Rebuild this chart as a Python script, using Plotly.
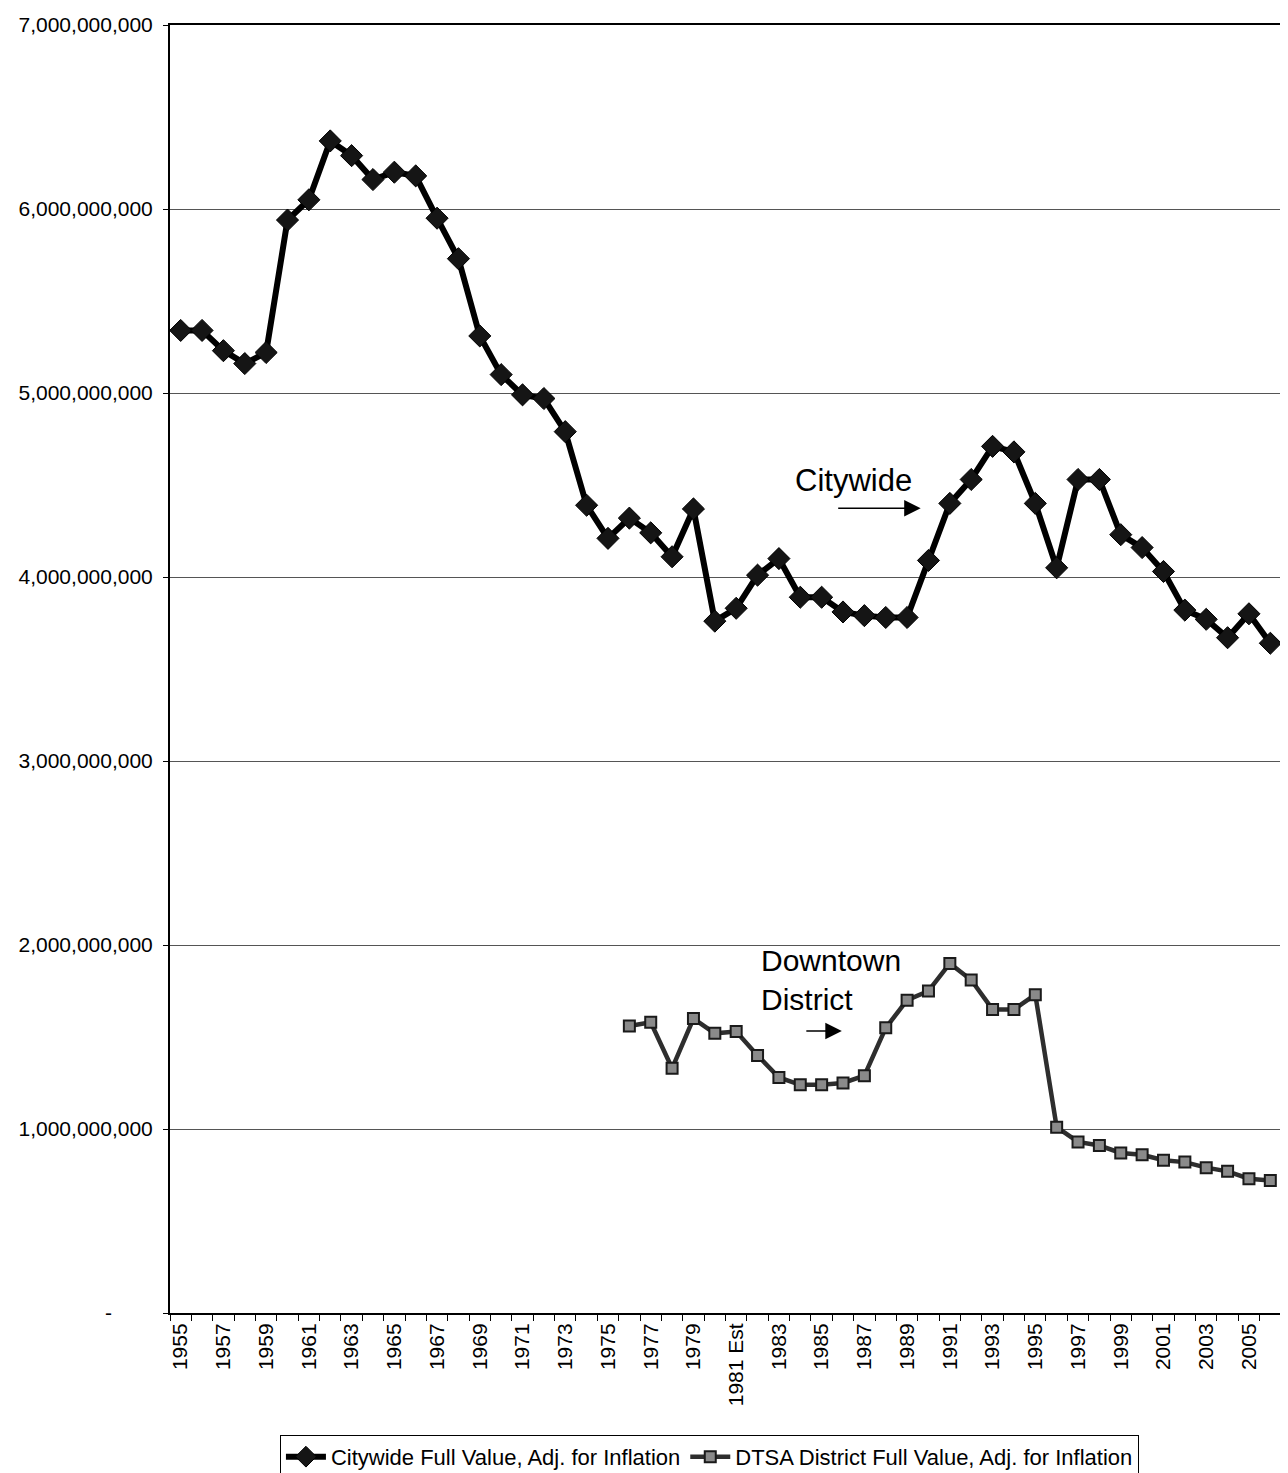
import plotly.graph_objects as go

# Category labels: 1955..2006, with the 1981 value flagged as an estimate
years = [str(y) if y != 1981 else "1981 Est" for y in range(1955, 2007)]

# Citywide full value, adjusted for inflation (dollars)
citywide = [
    5.34e9, 5.34e9, 5.23e9, 5.16e9, 5.22e9, 5.94e9, 6.05e9, 6.37e9, 6.29e9, 6.16e9,
    6.20e9, 6.18e9, 5.95e9, 5.73e9, 5.31e9, 5.10e9, 4.99e9, 4.97e9, 4.79e9, 4.39e9,
    4.21e9, 4.32e9, 4.24e9, 4.11e9, 4.37e9, 3.76e9, 3.83e9, 4.01e9, 4.10e9, 3.89e9,
    3.89e9, 3.81e9, 3.79e9, 3.78e9, 3.78e9, 4.09e9, 4.40e9, 4.53e9, 4.71e9, 4.68e9,
    4.40e9, 4.05e9, 4.53e9, 4.53e9, 4.23e9, 4.16e9, 4.03e9, 3.82e9, 3.77e9, 3.67e9,
    3.80e9, 3.64e9,
]

# DTSA district full value, adjusted for inflation (series starts in 1976)
dtsa = [None] * 21 + [
    1.56e9, 1.58e9, 1.33e9, 1.60e9, 1.52e9, 1.53e9, 1.40e9, 1.28e9, 1.24e9, 1.24e9,
    1.25e9, 1.29e9, 1.55e9, 1.70e9, 1.75e9, 1.90e9, 1.81e9, 1.65e9, 1.65e9, 1.73e9,
    1.01e9, 0.93e9, 0.91e9, 0.87e9, 0.86e9, 0.83e9, 0.82e9, 0.79e9, 0.77e9, 0.73e9,
    0.72e9,
]

y_ticks = [i * 1e9 for i in range(8)]
y_ticktext = ["-" + "\u00a0" * 7] + [f"{v:,.0f}" for v in y_ticks[1:]]
x_ticktext = [y if (i % 2 == 0) else "" for i, y in enumerate(years)]

FONT = "Liberation Sans, Arial, sans-serif"

fig = go.Figure()

fig.add_trace(go.Scatter(
    x=years,
    y=citywide,
    name="Citywide Full Value, Adj. for Inflation",
    mode="lines+markers",
    line=dict(color="#000000", width=6),
    marker=dict(symbol="diamond", size=17, color="#151515",
                line=dict(color="#000000", width=1)),
))

fig.add_trace(go.Scatter(
    x=years,
    y=dtsa,
    name="DTSA District Full Value, Adj. for Inflation",
    mode="lines+markers",
    line=dict(color="#2e2e2e", width=4.5),
    marker=dict(symbol="square", size=11, color="#8a8a8a",
                line=dict(color="#1a1a1a", width=2)),
))

# Text labels with arrows pointing at each series
fig.add_annotation(
    text="Citywide", xref="paper", yref="paper", x=0.6155, y=0.6466,
    showarrow=False, font=dict(family=FONT, size=31, color="#000000"),
)
fig.add_annotation(
    text="", xref="paper", yref="paper", x=0.6757, y=0.6249,
    showarrow=True, ax=-84, ay=0, arrowhead=2, arrowsize=2.2, arrowwidth=1.5,
    arrowcolor="#000000",
)
fig.add_annotation(
    text="Downtown<br>District", xref="paper", yref="paper", x=0.530, y=0.2880,
    xanchor="left", yanchor="top", align="left", showarrow=False,
    font=dict(family=FONT, size=30, color="#000000"),
)
fig.add_annotation(
    text="", xref="paper", yref="paper", x=0.6047, y=0.2190,
    showarrow=True, ax=-37, ay=0, arrowhead=2, arrowsize=2.2, arrowwidth=1.5,
    arrowcolor="#000000",
)

# The page body adds a small offset, so the figure is sized to fit the window
fig.update_layout(
    width=1280,
    height=1465,
    margin=dict(l=162, r=5, t=13, b=160),
    paper_bgcolor="white",
    plot_bgcolor="white",
    font=dict(family=FONT, color="#000000"),
    showlegend=True,
    legend=dict(
        orientation="h",
        xref="container", yref="container",
        x=0.548, y=0.011, xanchor="center", yanchor="middle",
        bordercolor="#000000", borderwidth=1,
        font=dict(family=FONT, size=22),
        itemwidth=40,
    ),
    xaxis=dict(
        type="category",
        range=[-0.5, len(years) - 0.5],
        tickmode="array",
        tickvals=years,
        ticktext=x_ticktext,
        tickangle=-90,
        tickfont=dict(family=FONT, size=21),
        tickson="boundaries",
        ticks="outside",
        ticklen=6,
        tickcolor="#000000",
        showline=True, linecolor="#000000", linewidth=2, mirror=True,
        showgrid=False,
    ),
    yaxis=dict(
        range=[0, 7e9],
        tickmode="array",
        tickvals=y_ticks,
        ticktext=y_ticktext,
        tickfont=dict(family=FONT, size=21),
        ticks="outside",
        ticklen=5,
        ticklabelstandoff=6,
        tickcolor="#000000",
        showline=True, linecolor="#000000", linewidth=2, mirror=True,
        showgrid=True, gridcolor="#555555", gridwidth=1,
        zeroline=False,
    ),
)

fig.write_html("out.html")
